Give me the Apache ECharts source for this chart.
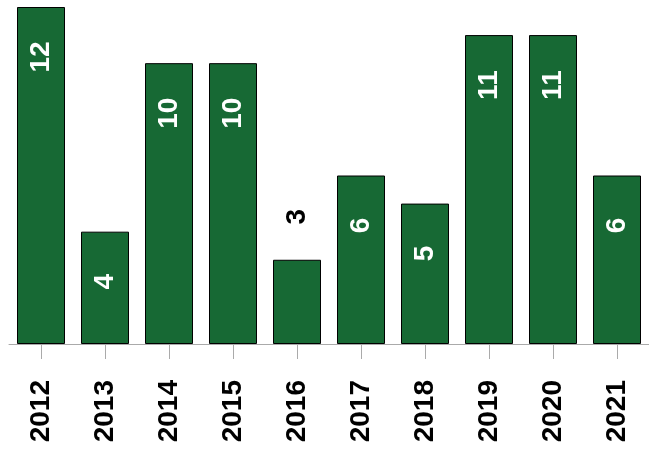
<!DOCTYPE html>
<html>
<head>
<meta charset="utf-8">
<script src="https://cdn.jsdelivr.net/npm/echarts@6/dist/echarts.min.js"></script>
<style>html,body{margin:0;padding:0;background:#fff;}#c{width:649px;height:451px;}</style>
</head>
<body>
<div id="c"></div>
<script>
const years = ['2012','2013','2014','2015','2016','2017','2018','2019','2020','2021'];
const counts = [12, 4, 10, 10, 3, 6, 5, 11, 11, 6];

const FONT = '"Liberation Sans Narrow", "Arial Narrow", sans-serif';
const chart = echarts.init(document.getElementById('c'), null, {renderer: 'canvas'});
const dataItems = counts.map(v => {
  const outside = v < 4;
  return {
    value: v,
    label: {
      position: outside ? ['50%', -43] : ['50%', 50],
      color: outside ? '#000' : '#fff'
    }
  };
});
chart.setOption({
  animation: false,
  grid: {left: 9, right: 0, top: 7, bottom: 107, containLabel: false, outerBoundsMode: 'none'},
  xAxis: {
    type: 'category',
    data: years,
    axisLine: {show: true, lineStyle: {color: '#aaa', width: 1}},
    axisTick: {show: true, alignWithLabel: true, length: 15, lineStyle: {color: '#aaa'}},
    axisLabel: {rotate: 90, margin: 36, color: '#000', fontWeight: 'bold', fontSize: 28, fontFamily: FONT}
  },
  yAxis: {
    type: 'value', min: 0, max: 12,
    show: false,
    splitLine: {show: false}
  },
  series: [{
    type: 'bar',
    data: dataItems,
    barCategoryGap: '25%',
    itemStyle: {color: '#176934', borderColor: '#000', borderWidth: 1},
    label: {
      show: true,
      rotate: 90,
      align: 'center',
      verticalAlign: 'middle',
      fontWeight: 'bold',
      fontSize: 28,
      fontFamily: FONT
    }
  }]
});
</script>
</body>
</html>
